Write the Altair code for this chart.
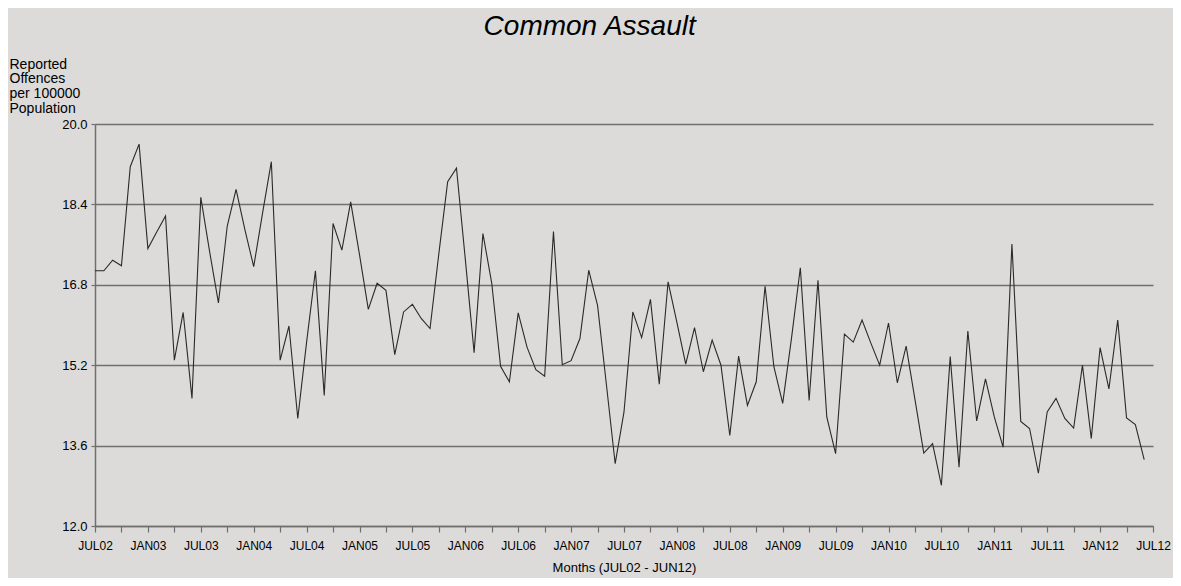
import altair as alt
import pandas as pd

# Monthly values, JUL02 .. JUN12 (120 months)
values = [
    17.08, 17.08, 17.29, 17.18, 19.15, 19.60, 17.52, 17.85, 18.17, 15.30,
    16.25, 14.54, 18.54, 17.46, 16.44, 17.97, 18.70, 17.90, 17.16, 18.22,
    19.25, 15.30, 15.98, 14.14, 15.66, 17.08, 14.60, 18.02, 17.49, 18.45,
    17.40, 16.31, 16.83, 16.69, 15.41, 16.26, 16.41, 16.13, 15.93, 17.42,
    18.85, 19.12, 17.31, 15.45, 17.82, 16.83, 15.18, 14.87, 16.24, 15.56,
    15.11, 14.98, 17.86, 15.21, 15.29, 15.73, 17.09, 16.39, 14.82, 13.24,
    14.27, 16.26, 15.75, 16.51, 14.82, 16.86, 16.05, 15.22, 15.95, 15.07,
    15.70, 15.20, 13.80, 15.38, 14.40, 14.87, 16.77, 15.17, 14.44, 15.74,
    17.14, 14.50, 16.89, 14.17, 13.44, 15.82, 15.66, 16.10, 15.64, 15.20,
    16.04, 14.85, 15.58, 14.52, 13.45, 13.64, 12.81, 15.37, 13.17, 15.88,
    14.09, 14.93, 14.17, 13.57, 17.61, 14.08, 13.94, 13.05, 14.27, 14.54,
    14.14, 13.95, 15.20, 13.74, 15.55, 14.73, 16.10, 14.15, 14.02, 13.32,
]

tick_labels = [
    "JUL02", "JAN03", "JUL03", "JAN04", "JUL04", "JAN05", "JUL05",
    "JAN06", "JUL06", "JAN07", "JUL07", "JAN08", "JUL08", "JAN09",
    "JUL09", "JAN10", "JUL10", "JAN11", "JUL11", "JAN12", "JUL12",
]

y_ticks = [12.0, 13.6, 15.2, 16.8, 18.4, 20.0]

y_title = ["Reported", "Offences", "per 100000", "Population"]
x_title = "Months (JUL02 - JUN12)"
chart_title = "Common Assault"

df = pd.DataFrame({"month": list(range(len(values))), "value": values})

label_js = "[" + ",".join("'%s'" % t for t in tick_labels) + "]"
label_expr = "datum.value % 6 == 0 ? " + label_js + "[datum.value / 6] : ''"

FONT = "Liberation Sans"
GRID = "#6f6f6f"

chart = (
    alt.Chart(df)
    .mark_line(color="#2a2a2a", strokeWidth=1.1)
    .encode(
        x=alt.X(
            "month:Q",
            scale=alt.Scale(domain=[0, 120], nice=False, zero=False),
            axis=alt.Axis(
                values=list(range(0, 121, 3)),
                labelExpr=label_expr,
                title=x_title,
                titleFont=FONT,
                titleFontSize=13,
                titleFontWeight="normal",
                titleColor="black",
                titlePadding=10,
                labelFont=FONT,
                labelFontSize=12,
                labelColor="black",
                labelPadding=8,
                labelFlush=False,
                labelOverlap=False,
                grid=False,
                domainColor=GRID,
                domainWidth=1.5,
                tickColor=GRID,
                tickWidth=1.2,
                tickSize=6,
            ),
        ),
        y=alt.Y(
            "value:Q",
            scale=alt.Scale(domain=[12, 20], nice=False, zero=False),
            axis=alt.Axis(
                values=y_ticks,
                format=".1f",
                title=y_title,
                titleFont=FONT,
                titleFontSize=14,
                titleFontWeight="normal",
                titleColor="black",
                titleAngle=0,
                titleAlign="left",
                titleBaseline="alphabetic",
                titleX=-86,
                titleY=-56,
                titleLineHeight=14.7,
                labelFont=FONT,
                labelFontSize=13,
                labelColor="black",
                labelPadding=4,
                grid=True,
                gridColor=GRID,
                gridWidth=1.6,
                gridOpacity=1,
                domainColor=GRID,
                domainWidth=1.5,
                tickColor=GRID,
                tickWidth=1.2,
                tickSize=4,
            ),
        ),
    )
    .properties(
        width=1058,
        height=402,
        autosize=alt.AutoSizeParams(type="none"),
        padding={"left": 87, "top": 116, "right": 20, "bottom": 52},
        title=alt.TitleParams(
            text=chart_title,
            font=FONT,
            fontSize=28,
            fontStyle="italic",
            fontWeight="normal",
            color="black",
            anchor="middle",
            frame="bounds",
            offset=16,
        ),
    )
    .configure(background="#dcdbd9")
    .configure_view(stroke=None)
)

chart.save("out.html", embed_options={"renderer": "svg", "actions": False})
